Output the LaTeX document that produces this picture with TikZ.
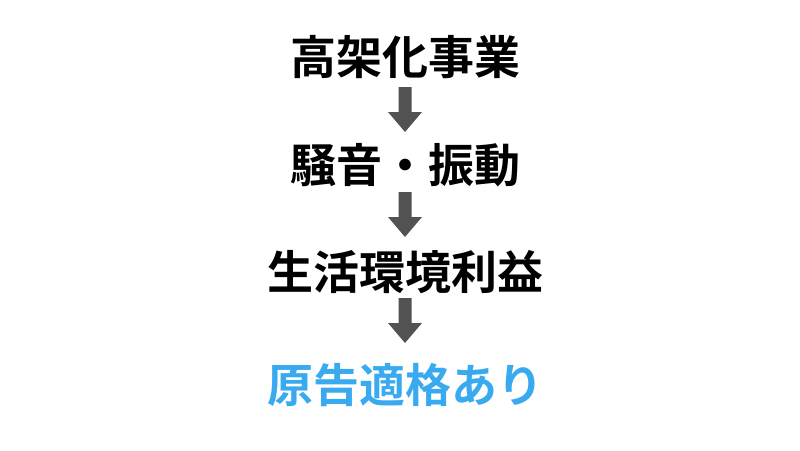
\documentclass[tikz,border=0pt]{standalone}
\usepackage{fontspec}
\newfontfamily\cjk{Noto Sans CJK JP Bold}
\begin{document}
\begin{tikzpicture}[x=1pt,y=-1pt,
  lbl/.style={font=\cjk\fontsize{46}{50}\selectfont, inner sep=0pt, anchor=center},
  arr/.style={fill=black!68, draw=none}]
\useasboundingbox (0,0) rectangle (800,450);
\node[lbl] (a) at (405,57) {高架化事業};
\node[lbl] (b) at (405,165) {騒音・振動};
\node[lbl] (c) at (405,272) {生活環境利益};
\node[lbl, text={rgb,255:red,58;green,170;blue,240}] (d) at (405,385) {原告適格あり};
\foreach \t in {87,192,298}{
  \fill[arr] (398.5,\t) -- (411.5,\t) -- (411.5,\t+25) -- (422,\t+25) -- (405,\t+45) -- (388,\t+25) -- (398.5,\t+25) -- cycle;
}
\end{tikzpicture}
\end{document}
